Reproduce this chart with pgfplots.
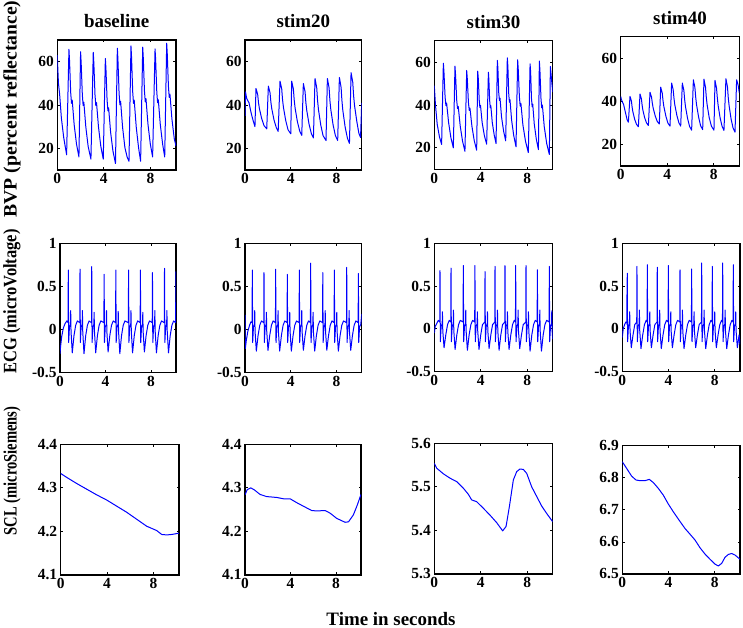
\documentclass[border=0pt]{standalone}
\usepackage{fontspec}
\setmainfont{Liberation Serif}
\usepackage{graphicx}
\usepackage{pgfplots}
\pgfplotsset{compat=1.18}
\newcommand\tickfont{\fontsize{15.5}{15.5}\selectfont\bfseries}
\newcommand\titfont{\fontsize{19}{19}\selectfont\bfseries}
\tikzset{sig/.style={color={rgb,255:red,0;green,0;blue,255}, line width=1bp, mark=none, line join=round}}
\pgfplotsset{
 panel/.style={scale only axis, anchor=north west, xmin=0, xmax=10.2,
   xtick={0,4,8}, xticklabels={0,4,8},
   axis line style={black, line width=1.1bp},
   tick style={black, line width=0.8bp}, major tick length=2.5bp,
   tick label style={font=\tickfont, text=black},
   title style={font=\titfont, yshift=3bp}},
 bvp/.style={panel, ymin=10, ymax=70, ytick={20,40,60}, yticklabels={20,40,60}},
 ecg/.style={panel, ymin=-0.5, ymax=1, ytick={-0.5,0,0.5,1}, yticklabels={-0.5,0,0.5,1}},
}
\begin{document}
\begin{tikzpicture}
\useasboundingbox (0,0) rectangle (743bp,628bp);
% ---------------- Row 1: BVP ----------------
\begin{axis}[bvp, at={(57.3bp,588bp)}, width=118.7bp, height=130bp, title={baseline}]
\addplot[sig] coordinates {(0,63) (0.05,56) (0.1,50) (0.2,45) (0.35,34) (0.55,25) (0.8,17)
(1.0,65.7) (1.05,60.7) (1.15,45.8) (1.22,40.8) (1.28,42.3) (1.45,30.9) (1.65,22) (1.86,16)
(2.0,64.6) (2.05,59.6) (2.15,44.8) (2.22,39.8) (2.28,41.3) (2.45,29.9) (2.65,20.9) (2.89,15)
(3.09,64.3) (3.14,59.4) (3.24,44.6) (3.31,39.7) (3.37,41.1) (3.54,29.8) (3.74,20.9) (3.95,15)
(4.13,61.5) (4.18,56.7) (4.28,42.1) (4.35,37.3) (4.41,38.7) (4.58,27.5) (4.78,18.8) (5.0,13)
(5.16,66.2) (5.21,61) (5.31,45.3) (5.38,40.1) (5.44,41.7) (5.61,29.7) (5.81,20.3) (6.0,16) (6.16,14)
(6.33,67.3) (6.38,62) (6.48,46) (6.55,40.7) (6.61,42.2) (6.78,30) (6.98,20.4) (7.16,14)
(7.34,66.7) (7.39,61.6) (7.49,46.4) (7.56,41.4) (7.62,42.9) (7.79,31.2) (7.99,22.1) (8.19,16)
(8.40,65.9) (8.45,60.9) (8.55,45.9) (8.62,41) (8.68,42.4) (8.85,31) (9.05,22) (9.23,16)
(9.40,68.5) (9.45,63.5) (9.55,48.5) (9.62,43.5) (9.68,45) (9.85,33.5) (10.05,24.5) (10.2,21)};
\end{axis}
\begin{axis}[bvp, at={(245bp,588bp)}, width=116.7bp, height=130bp, title={stim20}]
\addplot[sig] coordinates {(0,35) (0.04,46) (0.15,43) (0.35,41) (0.55,36) (0.7,33) (0.87,30)
(0.96,47.6) (1.01,46.7) (1.11,44.8) (1.18,41.1) (1.26,38.3) (1.46,33.7) (1.66,30.5) (1.9,29)
(2.04,48.7) (2.09,47.7) (2.19,45.6) (2.26,41.4) (2.34,38.3) (2.54,33) (2.74,29.5) (2.9,27.8)
(3.06,51) (3.11,49.8) (3.21,47.4) (3.28,42.5) (3.36,38.9) (3.56,32.8) (3.76,28.6) (4.0,26.7)
(4.08,51) (4.13,49.8) (4.23,47.3) (4.30,42.3) (4.38,38.5) (4.58,32.3) (4.78,28) (4.96,26)
(5.1,49.9) (5.15,48.6) (5.25,46.1) (5.32,41.1) (5.40,37.4) (5.60,31.1) (5.80,26.8) (5.98,24.8)
(6.12,52.2) (6.17,50.8) (6.27,47.9) (6.34,42.2) (6.42,37.9) (6.62,30.8) (6.82,25.9) (7.08,23.6)
(7.2,52.2) (7.25,50.8) (7.35,47.9) (7.42,42.2) (7.50,37.9) (7.70,30.8) (7.90,25.9) (8.1,23.6)
(8.25,52.7) (8.30,51.2) (8.40,48.1) (8.47,42.1) (8.55,37.5) (8.75,29.9) (8.95,24.7) (9.13,22.3)
(9.27,54.9) (9.32,53.4) (9.42,50.4) (9.49,44.4) (9.57,39.9) (9.77,32.5) (9.95,27) (10.1,25) (10.2,41)};
\end{axis}
\begin{axis}[bvp, at={(434.3bp,587.3bp)}, width=118.4bp, height=128.6bp, title={stim30}]
\addplot[sig] coordinates {(0,49) (0.1,40) (0.25,31) (0.45,25) (0.63,21.6)
(0.78,59.5) (0.83,55.6) (0.93,43.7) (1.0,39.8) (1.06,40.9) (1.23,31.9) (1.43,24.7) (1.64,20)
(1.78,58.1) (1.83,54.1) (1.93,42.2) (2.0,38.3) (2.06,39.4) (2.23,30.3) (2.43,23.2) (2.64,18.4)
(2.79,56.1) (2.84,52.4) (2.94,41.2) (3.01,37.5) (3.07,38.6) (3.24,30.1) (3.44,23.4) (3.65,18.9)
(3.74,55.8) (3.79,52.4) (3.87,42.2) (3.93,38.8) (3.98,39.8) (4.12,31.9) (4.31,25.8) (4.51,21.7)
(4.66,55.3) (4.70,52) (4.77,42) (4.82,38.7) (4.87,39.7) (4.99,32) (5.16,26) (5.32,22)
(5.43,60.8) (5.48,57) (5.55,45.8) (5.61,42.1) (5.66,43.2) (5.79,34.5) (5.97,27.8) (6.15,23.3)
(6.29,62) (6.34,57.9) (6.41,45.4) (6.47,41.3) (6.52,42.5) (6.66,32.9) (6.85,25.5) (7.04,20.5)
(7.18,61.1) (7.23,56.8) (7.33,43.8) (7.40,39.5) (7.46,40.8) (7.63,30.8) (7.86,23) (8.1,17.8)
(8.25,59.2) (8.30,55.2) (8.37,43.2) (8.43,39.2) (8.48,40.4) (8.61,31.2) (8.79,24) (8.97,19.2)
(9.05,60.5) (9.10,56.1) (9.19,43.1) (9.25,38.7) (9.31,40) (9.47,30) (9.68,22.1) (9.91,16.9)
(10.0,58) (10.08,53) (10.2,46)};
\end{axis}
\begin{axis}[bvp, at={(620.7bp,591.3bp)}, width=118.6bp, height=129.3bp, title={stim40}]
\addplot[sig] coordinates {(0,42.3) (0.05,41) (0.12,40) (0.25,38.5) (0.4,35) (0.55,31.5) (0.66,30.3)
(0.8,42.3) (0.84,41.6) (0.92,40.2) (0.98,37.4) (1.04,35.3) (1.20,31.7) (1.36,29.3) (1.52,28.2)
(1.66,43.4) (1.70,42.7) (1.78,41.2) (1.84,38.3) (1.90,36.1) (2.06,32.4) (2.22,30) (2.38,28.8)
(2.52,44.2) (2.56,43.5) (2.65,42) (2.72,39.1) (2.79,36.9) (2.97,33.2) (3.14,30.7) (3.32,29.5)
(3.44,46.6) (3.48,45.7) (3.57,43.9) (3.64,40.3) (3.71,37.6) (3.89,33) (4.06,29.9) (4.24,28.5)
(4.38,48.5) (4.42,47.5) (4.51,45.5) (4.58,41.5) (4.65,38.5) (4.83,33.5) (5.0,30.1) (5.16,28.5)
(5.3,48.5) (5.34,47.4) (5.43,45.2) (5.50,40.8) (5.57,37.6) (5.75,32.1) (5.92,28.4) (6.1,26.6)
(6.25,50) (6.29,48.8) (6.38,46.5) (6.45,41.9) (6.52,38.5) (6.70,32.7) (6.87,28.7) (7.05,26.9)
(7.16,50.3) (7.20,49.1) (7.29,46.7) (7.36,42) (7.43,38.5) (7.61,32.5) (7.80,28.5) (8.02,26.6)
(8.11,49.7) (8.15,48.5) (8.24,46.2) (8.31,41.6) (8.38,38.1) (8.55,32.3) (8.72,28.4) (8.88,26.5)
(9.05,50.5) (9.09,49.3) (9.18,46.8) (9.25,41.8) (9.32,38.1) (9.49,31.9) (9.66,27.7) (9.83,25.7)
(9.97,50) (10.02,49) (10.1,47.5) (10.2,44)};
\end{axis}
% ---------------- Row 2: ECG ----------------
\begin{axis}[ecg, at={(60bp,384.7bp)}, width=116bp, height=129.4bp]
\addplot[sig] coordinates {(0,-0.28) (0.05,-0.2) (0.15,-0.08) (0.3,0.02) (0.45,0.07) (0.6,0.1) (0.71,0.08)
(0.73,0.69) (0.76,-0.15) (0.83,0.03) (0.92,0.06) (0.94,0.22) (0.97,-0.02) (1.08,-0.27) (1.23,-0.07) (1.38,0.05) (1.53,0.1) (1.74,0.08)
(1.76,0.70) (1.79,-0.15) (1.86,0.03) (1.95,0.06) (1.97,0.22) (2.00,-0.02) (2.11,-0.28) (2.26,-0.07) (2.41,0.05) (2.56,0.1) (2.77,0.08)
(2.79,0.73) (2.82,-0.15) (2.89,0.03) (2.98,0.06) (3.00,0.2) (3.03,-0.02) (3.14,-0.27) (3.29,-0.07) (3.44,0.05) (3.59,0.1) (3.86,0.08)
(3.88,0.64) (3.91,-0.15) (3.98,0.03) (4.07,0.06) (4.09,0.22) (4.12,-0.02) (4.23,-0.26) (4.38,-0.07) (4.53,0.05) (4.68,0.1) (4.89,0.08)
(4.91,0.69) (4.94,-0.15) (5.01,0.03) (5.10,0.06) (5.12,0.21) (5.15,-0.02) (5.26,-0.28) (5.41,-0.07) (5.56,0.05) (5.71,0.1) (6.01,0.08)
(6.03,0.69) (6.06,-0.15) (6.13,0.03) (6.22,0.06) (6.24,0.22) (6.27,-0.02) (6.38,-0.27) (6.53,-0.07) (6.68,0.05) (6.83,0.1) (7.05,0.08)
(7.07,0.69) (7.10,-0.15) (7.17,0.03) (7.26,0.06) (7.28,0.2) (7.31,-0.02) (7.42,-0.26) (7.57,-0.07) (7.72,0.05) (7.87,0.1) (8.11,0.08)
(8.13,0.66) (8.16,-0.15) (8.23,0.03) (8.32,0.06) (8.34,0.22) (8.37,-0.02) (8.48,-0.27) (8.63,-0.07) (8.78,0.05) (8.93,0.1) (9.17,0.08)
(9.19,0.71) (9.22,-0.15) (9.29,0.03) (9.38,0.06) (9.40,0.22) (9.43,-0.02) (9.54,-0.27) (9.69,-0.07) (9.84,0.05) (9.99,0.1) (10.17,0.08)
(10.19,0.67) (10.2,0.4)};
\end{axis}
\begin{axis}[ecg, at={(245bp,384.7bp)}, width=116.7bp, height=129.4bp]
\addplot[sig] coordinates {(0,0.17) (0.03,-0.22) (0.12,-0.12) (0.25,-0.02) (0.4,0.05) (0.52,0.09) (0.62,0.08)
(0.64,0.69) (0.67,-0.15) (0.74,0.03) (0.83,0.06) (0.85,0.22) (0.88,-0.02) (0.99,-0.25) (1.14,-0.07) (1.29,0.05) (1.44,0.1) (1.64,0.08)
(1.66,0.66) (1.69,-0.15) (1.76,0.03) (1.85,0.06) (1.87,0.2) (1.90,-0.02) (2.01,-0.24) (2.16,-0.07) (2.31,0.05) (2.46,0.1) (2.66,0.08)
(2.68,0.70) (2.71,-0.15) (2.78,0.03) (2.87,0.06) (2.89,0.22) (2.92,-0.02) (3.03,-0.25) (3.18,-0.07) (3.33,0.05) (3.48,0.1) (3.68,0.08)
(3.70,0.64) (3.73,-0.15) (3.80,0.03) (3.89,0.06) (3.91,0.2) (3.94,-0.02) (4.05,-0.25) (4.20,-0.07) (4.35,0.05) (4.50,0.1) (4.73,0.08)
(4.75,0.69) (4.78,-0.15) (4.85,0.03) (4.94,0.06) (4.96,0.22) (4.99,-0.02) (5.10,-0.24) (5.25,-0.07) (5.40,0.05) (5.55,0.1) (5.72,0.08)
(5.74,0.77) (5.77,-0.15) (5.84,0.03) (5.93,0.06) (5.95,0.2) (5.98,-0.02) (6.09,-0.25) (6.24,-0.07) (6.39,0.05) (6.54,0.1) (6.78,0.08)
(6.80,0.66) (6.83,-0.15) (6.90,0.03) (6.99,0.06) (7.01,0.22) (7.04,-0.02) (7.15,-0.24) (7.30,-0.07) (7.45,0.05) (7.60,0.1) (7.79,0.08)
(7.81,0.69) (7.84,-0.15) (7.91,0.03) (8.00,0.06) (8.02,0.2) (8.05,-0.02) (8.16,-0.25) (8.31,-0.07) (8.46,0.05) (8.61,0.1) (8.87,0.08)
(8.89,0.72) (8.92,-0.15) (8.99,0.03) (9.08,0.06) (9.10,0.22) (9.13,-0.02) (9.24,-0.24) (9.39,-0.07) (9.54,0.05) (9.69,0.1) (9.89,0.08)
(9.91,0.65) (9.94,-0.15) (10.01,0.03) (10.12,0.06) (10.2,0.18)};
\end{axis}
\begin{axis}[ecg, at={(434.3bp,384.7bp)}, width=118.4bp, height=128.4bp]
\addplot[sig] coordinates {(0,-0.05) (0.08,0.03) (0.2,0.06) (0.35,0.1) (0.47,0.08)
(0.49,0.68) (0.52,-0.15) (0.59,0.03) (0.68,0.06) (0.70,0.2) (0.73,-0.02) (0.84,-0.22) (0.99,-0.07) (1.14,0.05) (1.29,0.1) (1.42,0.08)
(1.44,0.71) (1.47,-0.15) (1.54,0.03) (1.63,0.06) (1.65,0.22) (1.68,-0.02) (1.79,-0.24) (1.94,-0.07) (2.09,0.05) (2.24,0.1) (2.48,0.08)
(2.50,0.74) (2.53,-0.15) (2.60,0.03) (2.69,0.06) (2.71,0.22) (2.74,-0.02) (2.85,-0.25) (3.00,-0.07) (3.15,0.05) (3.30,0.1) (3.48,0.08)
(3.50,0.74) (3.53,-0.15) (3.60,0.03) (3.69,0.06) (3.71,0.2) (3.74,-0.02) (3.85,-0.24) (4.0,-0.07) (4.15,0.05) (4.35,0.08)
(4.37,0.67) (4.40,-0.15) (4.47,0.03) (4.56,0.06) (4.58,0.2) (4.61,-0.02) (4.72,-0.23) (4.87,-0.07) (5.02,0.05) (5.21,0.08)
(5.23,0.73) (5.26,-0.15) (5.33,0.03) (5.42,0.06) (5.44,0.22) (5.47,-0.02) (5.58,-0.25) (5.73,-0.07) (5.88,0.05) (6.07,0.08)
(6.09,0.74) (6.12,-0.15) (6.19,0.03) (6.28,0.06) (6.30,0.2) (6.33,-0.02) (6.44,-0.24) (6.59,-0.07) (6.74,0.05) (6.89,0.1) (6.99,0.08)
(7.01,0.74) (7.04,-0.15) (7.11,0.03) (7.20,0.06) (7.22,0.22) (7.25,-0.02) (7.36,-0.23) (7.51,-0.07) (7.66,0.05) (7.88,0.08)
(7.90,0.74) (7.93,-0.15) (8.00,0.03) (8.09,0.06) (8.11,0.2) (8.14,-0.02) (8.25,-0.26) (8.40,-0.07) (8.55,0.05) (8.70,0.1) (8.86,0.08)
(8.88,0.69) (8.91,-0.15) (8.98,0.03) (9.07,0.06) (9.09,0.22) (9.12,-0.02) (9.23,-0.26) (9.38,-0.07) (9.53,0.05) (9.68,0.1) (9.89,0.08)
(9.91,0.73) (9.94,-0.15) (10.01,0.03) (10.10,0.06) (10.12,0.21) (10.15,-0.02) (10.2,-0.12)};
\end{axis}
\begin{axis}[ecg, at={(622.3bp,384.7bp)}, width=117.7bp, height=128.4bp]
\addplot[sig] coordinates {(0,-0.1) (0.08,0.0) (0.2,0.05) (0.3,0.08) (0.39,0.07) (0.40,0.4) (0.41,0.05)
(0.43,0.65) (0.46,-0.15) (0.53,0.03) (0.62,0.06) (0.64,0.2) (0.67,-0.02) (0.78,-0.22) (0.93,-0.07) (1.08,0.05) (1.25,0.08)
(1.27,0.73) (1.30,-0.15) (1.37,0.03) (1.46,0.06) (1.48,0.22) (1.51,-0.02) (1.62,-0.23) (1.77,-0.07) (1.92,0.05) (2.07,0.1) (2.15,0.08)
(2.17,0.75) (2.20,-0.15) (2.27,0.03) (2.36,0.06) (2.38,0.2) (2.41,-0.02) (2.52,-0.22) (2.67,-0.07) (2.82,0.05) (3.01,0.08)
(3.03,0.72) (3.06,-0.15) (3.13,0.03) (3.22,0.06) (3.24,0.22) (3.27,-0.02) (3.38,-0.23) (3.53,-0.07) (3.68,0.05) (3.83,0.1) (3.97,0.08)
(3.99,0.74) (4.02,-0.15) (4.09,0.03) (4.18,0.06) (4.20,0.2) (4.23,-0.02) (4.34,-0.22) (4.49,-0.07) (4.64,0.05) (4.79,0.1) (4.98,0.08)
(5.00,0.69) (5.03,-0.15) (5.10,0.03) (5.19,0.06) (5.21,0.22) (5.24,-0.02) (5.35,-0.23) (5.50,-0.07) (5.65,0.05) (5.80,0.1) (5.99,0.08)
(6.01,0.70) (6.04,-0.15) (6.11,0.03) (6.20,0.06) (6.22,0.2) (6.25,-0.02) (6.36,-0.22) (6.51,-0.07) (6.66,0.05) (6.86,0.08)
(6.88,0.77) (6.91,-0.15) (6.98,0.03) (7.07,0.06) (7.09,0.22) (7.12,-0.02) (7.23,-0.23) (7.38,-0.07) (7.53,0.05) (7.68,0.1) (7.78,0.08)
(7.80,0.73) (7.83,-0.15) (7.90,0.03) (7.99,0.06) (8.01,0.2) (8.04,-0.02) (8.15,-0.22) (8.30,-0.07) (8.45,0.05) (8.60,0.1) (8.68,0.08)
(8.70,0.77) (8.73,-0.15) (8.80,0.03) (8.89,0.06) (8.91,0.22) (8.94,-0.02) (9.05,-0.23) (9.20,-0.07) (9.35,0.05) (9.50,0.1) (9.60,0.08)
(9.62,0.75) (9.65,-0.15) (9.72,0.03) (9.81,0.06) (9.83,0.2) (9.86,-0.02) (9.97,-0.22) (10.12,-0.07) (10.2,-0.18)};
\end{axis}
% ---------------- Row 3: SCL ----------------
\begin{axis}[panel, at={(60.7bp,183.7bp)}, width=118.3bp, height=130.7bp,
  ymin=4.1, ymax=4.4, ytick={4.1,4.2,4.3,4.4}, yticklabels={4.1,4.2,4.3,4.4}]
\addplot[sig] coordinates {(0,4.333) (0.52,4.324) (1.38,4.31) (2.24,4.297) (3.1,4.284) (3.97,4.272)
(4.83,4.258) (5.69,4.244) (6.55,4.228) (7.41,4.212) (8.28,4.202) (8.71,4.193) (9.14,4.192) (9.57,4.193) (10.2,4.196)};
\end{axis}
\begin{axis}[panel, at={(245bp,183.7bp)}, width=116bp, height=130.7bp,
  ymin=4.1, ymax=4.4, ytick={4.1,4.2,4.3,4.4}, yticklabels={4.1,4.2,4.3,4.4}]
\addplot[sig] coordinates {(0,4.284) (0.2,4.296) (0.5,4.3) (0.79,4.296) (1.32,4.285) (1.9,4.28) (2.79,4.278)
(3.37,4.275) (3.96,4.275) (4.55,4.266) (5.13,4.258) (5.86,4.248) (6.3,4.247) (7.04,4.248) (7.48,4.242)
(8.06,4.23) (8.8,4.221) (9.1,4.222) (9.53,4.238) (9.88,4.261) (10.2,4.285)};
\end{axis}
\begin{axis}[panel, at={(434.3bp,184.7bp)}, width=118.4bp, height=130.7bp,
  ymin=5.3, ymax=5.6, ytick={5.3,5.4,5.5,5.6}, yticklabels={5.3,5.4,5.5,5.6}]
\addplot[sig] coordinates {(0,5.554) (0.2,5.543) (0.78,5.53) (1.35,5.52) (1.93,5.512) (2.5,5.497) (2.93,5.483)
(3.22,5.47) (3.65,5.466) (4.22,5.451) (4.8,5.435) (5.37,5.418) (5.89,5.399) (6.18,5.409) (6.47,5.455)
(6.81,5.516) (7.1,5.535) (7.38,5.541) (7.67,5.54) (7.96,5.531) (8.39,5.5) (8.82,5.478) (9.25,5.456) (9.68,5.439) (10.2,5.42)};
\end{axis}
\begin{axis}[panel, at={(622.3bp,182.3bp)}, width=117.7bp, height=128.3bp,
  ymin=6.5, ymax=6.9, ytick={6.5,6.6,6.7,6.8,6.9}, yticklabels={6.5,6.6,6.7,6.8,6.9}]
\addplot[sig] coordinates {(0,6.85) (0.38,6.829) (0.81,6.805) (1.19,6.793) (1.53,6.791) (1.97,6.791) (2.34,6.795)
(2.69,6.785) (3.12,6.767) (3.55,6.746) (3.99,6.718) (4.42,6.694) (4.86,6.671) (5.43,6.642) (5.87,6.624)
(6.3,6.606) (6.73,6.582) (7.17,6.562) (7.6,6.546) (8.03,6.531) (8.32,6.525) (8.61,6.533) (8.9,6.552)
(9.19,6.561) (9.48,6.564) (9.77,6.559) (10.2,6.546)};
\end{axis}
% ---------------- Labels ----------------
\node[rotate=90, font=\titfont] at (12bp,519bp) {\scalebox{1.04}[1]{BVP (percent reflectance)}};
\node[rotate=90, font=\titfont] at (12bp,326.5bp) {\scalebox{0.87}[1]{ECG (microVoltage)}};
\node[rotate=90, font=\titfont] at (12bp,157bp) {\scalebox{0.77}[1]{SCL (microSiemens)}};
\node[anchor=base, font=\titfont] at (391bp,3bp) {Time in seconds};
\end{tikzpicture}
\end{document}
